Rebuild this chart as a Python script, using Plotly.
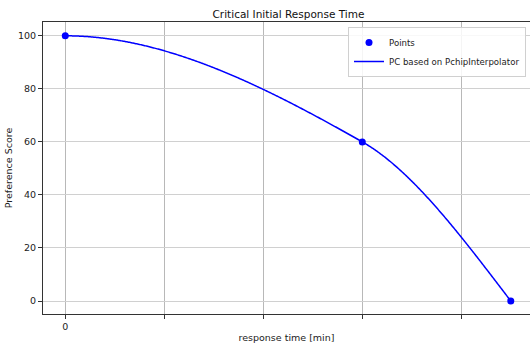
import numpy as np
import plotly.graph_objects as go

# data
x_points = [0.0, 3.0, 4.5]
y_points = [100.0, 60.0, 0.0]
x_tickvals = [0, 1, 2, 3, 4]
x_ticktext = ["0", "", "", "", ""]
y_tickvals = [0, 20, 40, 60, 80, 100]


def pchip(x, y, xs):
    x = np.asarray(x, float); y = np.asarray(y, float)
    h = np.diff(x); delta = np.diff(y) / h
    n = len(x)
    d = np.zeros(n)
    for k in range(1, n - 1):
        if delta[k - 1] * delta[k] > 0:
            w1 = 2 * h[k] + h[k - 1]
            w2 = h[k] + 2 * h[k - 1]
            d[k] = (w1 + w2) / (w1 / delta[k - 1] + w2 / delta[k])
    def end(h0, h1, m0, m1):
        dd = ((2 * h0 + h1) * m0 - h0 * m1) / (h0 + h1)
        if np.sign(dd) != np.sign(m0):
            dd = 0.0
        elif np.sign(m0) != np.sign(m1) and abs(dd) > abs(3 * m0):
            dd = 3 * m0
        return dd
    d[0] = end(h[0], h[1], delta[0], delta[1])
    d[-1] = end(h[-1], h[-2], delta[-1], delta[-2])
    out = np.empty_like(xs)
    for i, xv in enumerate(xs):
        k = min(np.searchsorted(x, xv, side="right") - 1, n - 2)
        k = max(k, 0)
        t = (xv - x[k]) / h[k]
        h00 = 2 * t**3 - 3 * t**2 + 1
        h10 = t**3 - 2 * t**2 + t
        h01 = -2 * t**3 + 3 * t**2
        h11 = t**3 - t**2
        out[i] = h00 * y[k] + h10 * h[k] * d[k] + h01 * y[k + 1] + h11 * h[k] * d[k + 1]
    return out


xs = np.linspace(x_points[0], x_points[-1], 500)
ys = pchip(x_points, y_points, xs)

font = "DejaVu Sans"
fs = 9.5
fig = go.Figure()
fig.add_trace(go.Scatter(x=x_points, y=y_points, mode="markers", name="Points",
                         marker=dict(color="#0000ff", size=7)))
fig.add_trace(go.Scatter(x=xs, y=ys, mode="lines", name="PC based on PchipInterpolator",
                         line=dict(color="#0000ff", width=1.5, simplify=False)))

fig.update_layout(
    width=530, height=343,
    margin=dict(l=43, r=0, t=22, b=29, autoexpand=False),
    paper_bgcolor="white", plot_bgcolor="white",
    font=dict(family=font, size=fs, color="#222222"),
    title=dict(text="Critical Initial Response Time", x=(43 + 534) / 2 / 530, xanchor="center",
               y=1 - 14 / 343, yanchor="middle", font=dict(size=10.5, color="#111111")),
    showlegend=True,
    legend=dict(x=(526 - 43) / 487, y=1 - 5 / 292, xanchor="right", yanchor="top",
                bgcolor="rgba(255,255,255,0.85)", bordercolor="#d0d0d0", borderwidth=1,
                font=dict(size=8.6), itemwidth=30, tracegroupgap=0),
)
fig.update_xaxes(range=[-0.225, 4.694], tickvals=x_tickvals, ticktext=x_ticktext,
                 showgrid=True, gridcolor="#b8b8b8", gridwidth=0.8,
                 showline=True, linecolor="#333333", linewidth=1, mirror=True,
                 ticks="outside", ticklen=4, tickcolor="#333333", zeroline=False,
                 title=dict(text="response time [min]", standoff=6, font=dict(size=fs)))
fig.update_yaxes(range=[-4.9, 105.2], tickvals=y_tickvals,
                 showgrid=True, gridcolor="#d0d0d0", gridwidth=1,
                 showline=True, linecolor="#333333", linewidth=1,
                 ticks="outside", ticklen=4, tickcolor="#333333", zeroline=False,
                 title=dict(text="Preference Score", standoff=3, font=dict(size=fs)))

fig.write_html("out.html")
